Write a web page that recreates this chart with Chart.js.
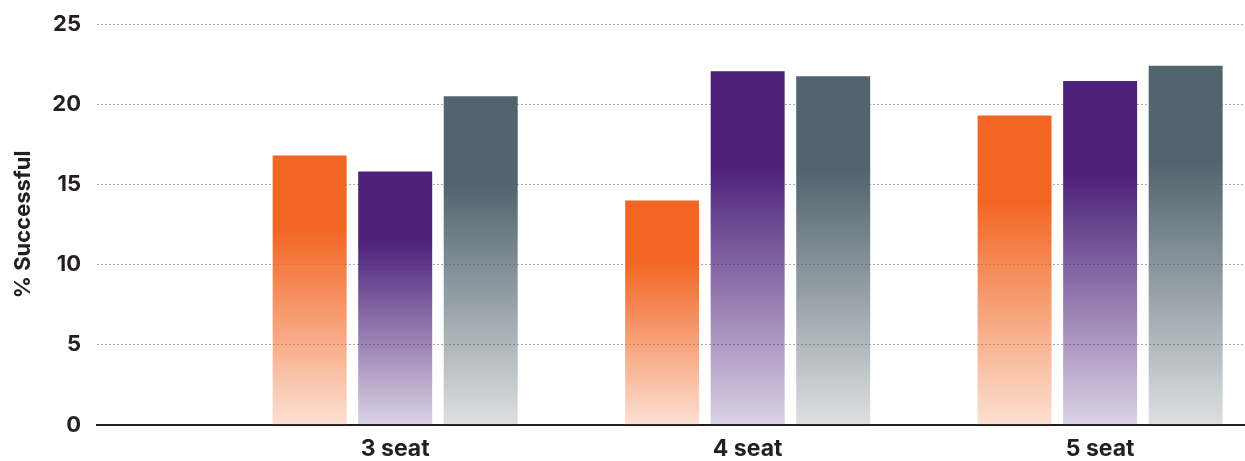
<!DOCTYPE html>
<html lang="en">
  <head>
    <meta charset="UTF-8" />
    <title>% Successful by seat count</title>
    <script src="https://cdn.jsdelivr.net/npm/chart.js"></script>
    <style>
      html, body { margin: 0; padding: 0; background: #fff; }
      .chart-box { width: 1245px; height: 461px; }
    </style>
  </head>
  <body>
    <div class="chart-box">
      <canvas id="grafico"></canvas>
    </div>

    <script>
      // categorias e valores
      const categories = ["3 seat", "4 seat", "5 seat"];
      const orangeValues = [16.8, 14.0, 19.3];
      const purpleValues = [15.8, 22.05, 21.45];
      const greyValues = [20.5, 21.75, 22.4];
      const yTicks = [0, 5, 10, 15, 20, 25];

      const TEXT = "#231f20";
      const FONT = "Inter, 'Open Sans', sans-serif";

      // gradiente por barra: cor sólida no topo, clareando até a base
      function fade(r, g, b) {
        return function (ctx) {
          const solid = `rgb(${r},${g},${b})`;
          const chart = ctx.chart;
          if (!chart.chartArea || ctx.type !== "data" || !ctx.parsed) return solid;
          const y = chart.scales.y;
          const top = y.getPixelForValue(ctx.parsed.y);
          const base = y.getPixelForValue(0);
          if (base - top < 2) return solid;
          const grad = chart.ctx.createLinearGradient(0, top, 0, base);
          grad.addColorStop(0, solid);
          grad.addColorStop(0.27, solid);
          grad.addColorStop(1, `rgba(${r},${g},${b},0.2)`);
          return grad;
        };
      }

      const toPoints = (values) => values.map((v, i) => ({ x: i + 1, y: v }));

      new Chart(document.getElementById("grafico"), {
        type: "bar",
        data: {
          datasets: [
            { label: "Series 1", data: toPoints(orangeValues), backgroundColor: fade(242, 101, 34) },
            { label: "Series 2", data: toPoints(purpleValues), backgroundColor: fade(76, 33, 122) },
            { label: "Series 3", data: toPoints(greyValues), backgroundColor: fade(82, 100, 110) },
          ],
        },
        options: {
          responsive: true,
          maintainAspectRatio: false,
          animation: false,
          categoryPercentage: 0.728,
          barPercentage: 0.865,
          layout: { padding: { top: 24, right: 0, bottom: 0, left: 0 } },
          plugins: {
            legend: { display: false },
            tooltip: { enabled: false },
          },
          scales: {
            x: {
              type: "linear",
              offset: false,
              min: 0.154,
              max: 3.411,
              afterBuildTicks: (scale) => {
                scale.ticks = categories.map((c, i) => ({ value: i + 1 }));
              },
              afterFit: (scale) => {
                scale.height = 36;
              },
              grid: { display: false, drawTicks: false, offset: false },
              border: { display: true, color: TEXT, width: 2 },
              ticks: {
                padding: 10,
                color: TEXT,
                font: { family: FONT, size: 23, weight: "bold" },
                callback: (value) => categories[value - 1],
              },
            },
            y: {
              min: 0,
              max: 25,
              afterBuildTicks: (scale) => {
                scale.ticks = yTicks.map((v) => ({ value: v }));
              },
              afterFit: (scale) => {
                scale.width = 97;
                scale.paddingTop = 0;
                scale.paddingBottom = 0;
              },
              grid: { color: "#a8a8a8", lineWidth: 1, drawTicks: false },
              border: { display: false, dash: [2, 2] },
              ticks: {
                padding: 16,
                color: TEXT,
                font: { family: FONT, size: 22, weight: "bold" },
              },
              title: {
                display: true,
                text: "% Successful",
                color: TEXT,
                font: { family: FONT, size: 22, weight: "bold" },
                padding: { top: 10, bottom: 0 },
              },
            },
          },
        },
      });
    </script>
  </body>
</html>
